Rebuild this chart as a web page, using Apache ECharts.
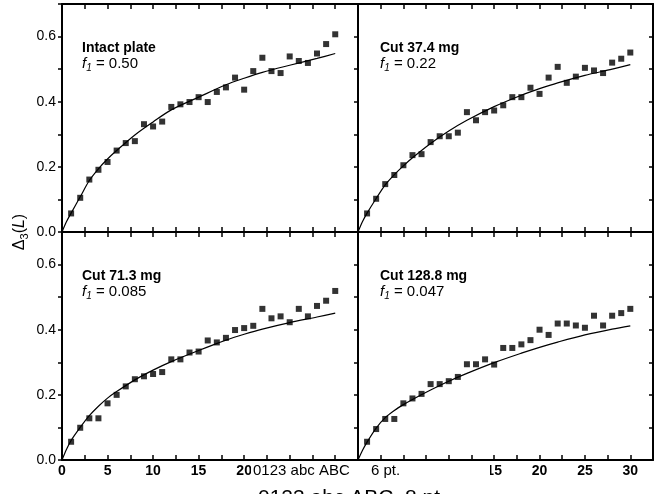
<!DOCTYPE html>
<html>
<head>
<meta charset="utf-8">
<script src="https://cdn.jsdelivr.net/npm/echarts@6/dist/echarts.min.js"></script>
<style>
  html, body { margin: 0; padding: 0; background: #fff; }
  #chart { width: 666px; height: 499px; }
</style>
</head>
<body>
<div id="chart"></div>
<script>
// measured points, x = 1..30
const xs = [1, 2, 3, 4, 5, 6, 7, 8, 9, 10, 11, 12, 13, 14, 15, 16, 17, 18, 19, 20, 21, 22, 23, 24, 25, 26, 27, 28, 29, 30]
const intactY = [0.057, 0.105, 0.161, 0.191, 0.215, 0.250, 0.273, 0.279, 0.331, 0.324, 0.339, 0.384, 0.392, 0.399, 0.414, 0.399, 0.430, 0.444, 0.474, 0.437, 0.494, 0.535, 0.494, 0.488, 0.539, 0.525, 0.519, 0.548, 0.577, 0.607]
const cut374Y = [0.057, 0.102, 0.147, 0.175, 0.205, 0.236, 0.239, 0.276, 0.294, 0.294, 0.305, 0.368, 0.343, 0.368, 0.373, 0.389, 0.414, 0.414, 0.443, 0.424, 0.474, 0.507, 0.458, 0.477, 0.504, 0.496, 0.488, 0.520, 0.532, 0.551]
const cut713Y = [0.056, 0.099, 0.128, 0.128, 0.174, 0.200, 0.226, 0.248, 0.257, 0.264, 0.270, 0.309, 0.309, 0.330, 0.333, 0.367, 0.361, 0.375, 0.399, 0.405, 0.412, 0.464, 0.435, 0.441, 0.423, 0.464, 0.441, 0.473, 0.489, 0.519]
const cut1288Y = [0.056, 0.095, 0.126, 0.126, 0.174, 0.189, 0.203, 0.233, 0.233, 0.242, 0.255, 0.294, 0.294, 0.309, 0.293, 0.344, 0.344, 0.355, 0.368, 0.400, 0.384, 0.419, 0.419, 0.413, 0.406, 0.443, 0.413, 0.443, 0.451, 0.464]

// fitted curves
const fitX = [0, 0.5, 1, 2, 3, 4, 5, 6, 8, 10, 12, 15, 18, 20, 22, 25, 28, 30]
const intactFit = [0, 0.032, 0.058, 0.108, 0.158, 0.194, 0.224, 0.250, 0.298, 0.338, 0.375, 0.414, 0.452, 0.472, 0.490, 0.512, 0.533, 0.548]
const cut374Fit = [0, 0.032, 0.058, 0.103, 0.145, 0.176, 0.203, 0.228, 0.272, 0.310, 0.343, 0.385, 0.420, 0.440, 0.458, 0.481, 0.500, 0.514]
const cut713Fit = [0, 0.033, 0.060, 0.100, 0.136, 0.165, 0.190, 0.210, 0.246, 0.276, 0.302, 0.336, 0.368, 0.386, 0.402, 0.422, 0.439, 0.451]
const cut1288Fit = [0, 0.030, 0.055, 0.098, 0.130, 0.152, 0.170, 0.186, 0.215, 0.242, 0.266, 0.299, 0.328, 0.346, 0.362, 0.384, 0.402, 0.412]

const panelNames = ['Intact plate', 'Cut 37.4 mg', 'Cut 71.3 mg', 'Cut 128.8 mg']
const panelF1 = ['0.50', '0.22', '0.085', '0.047']
const pointSets = [intactY, cut374Y, cut713Y, cut1288Y]
const fitSets = [intactFit, cut374Fit, cut713Fit, cut1288Fit]

const FONT = '"Liberation Sans", Arial, sans-serif'

const grids = [
    {left: 62, top: 4, width: 296, height: 228},
    {left: 358, top: 4, width: 295, height: 228},
    {left: 62, top: 232, width: 296, height: 228},
    {left: 358, top: 232, width: 295, height: 228}
]

let xAxes = [], yAxes = [], series = [], graphic = []

grids.forEach(function(g, i) {
    const lineStyle = {color: '#000', width: 2}
    const tickStyle = {color: '#000', width: 1.5}
    // bottom x
    xAxes.push({
        gridIndex: i, type: 'value', position: 'bottom', min: 0, max: 32.5, interval: 2.5,
        axisLine: {onZero: false, lineStyle: lineStyle},
        axisTick: {inside: true, length: 5, lineStyle: tickStyle},
        axisLabel: {
            show: i >= 2, margin: 4, color: '#000', fontFamily: FONT, fontSize: 14, fontWeight: 'bold',
            formatter: function(v) { return v % 5 === 0 ? String(v) : '' }
        },
        splitLine: {show: false}
    })
    // top x (frame only)
    xAxes.push({
        gridIndex: i, type: 'value', position: 'top', min: 0, max: 32.5, interval: 2.5,
        axisLine: {onZero: false, lineStyle: lineStyle},
        axisTick: {inside: true, length: 5, lineStyle: tickStyle},
        axisLabel: {show: false},
        splitLine: {show: false}
    })
    // left y
    yAxes.push({
        gridIndex: i, type: 'value', position: 'left', min: 0, max: 0.7, interval: 0.1,
        axisLine: {onZero: false, lineStyle: lineStyle},
        axisTick: {inside: false, length: 4, lineStyle: tickStyle},
        axisLabel: {
            show: i % 2 === 0, margin: 6, color: '#000', fontFamily: FONT, fontSize: 14,
            formatter: function(v) {
                const k = Math.round(v * 10)
                return (k % 2 === 0 && k < 7) ? v.toFixed(1) : ''
            }
        },
        splitLine: {show: false}
    })
    // right y (frame only)
    yAxes.push({
        gridIndex: i, type: 'value', position: 'right', min: 0, max: 0.7, interval: 0.1,
        axisLine: {onZero: false, lineStyle: lineStyle},
        axisTick: {inside: true, length: 4, lineStyle: tickStyle},
        axisLabel: {show: false},
        splitLine: {show: false}
    })

    series.push({
        type: 'line', xAxisIndex: 2 * i, yAxisIndex: 2 * i,
        data: fitX.map(function(x, j) { return [x, fitSets[i][j]] }),
        smooth: 0.3, symbol: 'none', silent: true,
        lineStyle: {color: '#000', width: 1.2}
    })
    series.push({
        type: 'scatter', xAxisIndex: 2 * i, yAxisIndex: 2 * i,
        data: xs.map(function(x, j) { return [x, pointSets[i][j]] }),
        symbol: 'rect', symbolSize: 6, silent: true,
        itemStyle: {color: '#000'}
    })

    // panel annotation
    const tx = g.left + (i % 2 === 0 ? 20 : 22)
    graphic.push({
        type: 'text', left: tx, top: g.top + 37,
        style: {text: panelNames[i], font: 'bold 14px ' + FONT, fill: '#000'}
    })
    graphic.push({
        type: 'text', left: tx, top: g.top + 52,
        style: {
            text: '{f|f}{s|1}{n| = ' + panelF1[i] + '}',
            rich: {
                f: {font: 'italic 15px ' + FONT, fill: '#000', lineHeight: 20, verticalAlign: 'middle'},
                s: {font: 'italic 10px ' + FONT, fill: '#000', lineHeight: 20, verticalAlign: 'bottom'},
                n: {font: '15px ' + FONT, fill: '#000', lineHeight: 20, verticalAlign: 'middle'}
            }
        }
    })
})

// overlaid text box covering part of the x tick labels
graphic.push({
    type: 'rect', shape: {x: 251, y: 462, width: 239, height: 18},
    style: {fill: '#fff'}, z: 100
})
graphic.push({
    type: 'text', x: 253, y: 471, z: 101,
    style: {text: '0123 abc ABC', font: '15px ' + FONT, fill: '#000', verticalAlign: 'middle'}
})
graphic.push({
    type: 'text', x: 371, y: 471, z: 101,
    style: {text: '6 pt.', font: '15px ' + FONT, fill: '#000', verticalAlign: 'middle'}
})
// x axis title, cut off by the bottom edge
graphic.push({
    type: 'text', x: 258, y: 488, z: 101,
    style: {text: '0123 abc ABC  8 pt.', font: '21px ' + FONT, fill: '#000', verticalAlign: 'top'}
})
graphic.push({
    type: 'rect', shape: {x: 240, y: 494, width: 240, height: 5},
    style: {fill: '#fff'}, z: 102
})
// y axis title
graphic.push({
    type: 'text', x: 20, y: 232, rotation: Math.PI / 2, z: 101,
    style: {
        text: '{d|\u0394}{s|3}{n|(}{i|L}{n|)}',
        align: 'center', verticalAlign: 'middle',
        rich: {
            d: {font: '16px ' + FONT, fill: '#000', lineHeight: 20, verticalAlign: 'middle'},
            s: {font: '11px ' + FONT, fill: '#000', lineHeight: 20, verticalAlign: 'bottom'},
            n: {font: '16px ' + FONT, fill: '#000', lineHeight: 20, verticalAlign: 'middle'},
            i: {font: 'italic 16px ' + FONT, fill: '#000', lineHeight: 20, verticalAlign: 'middle'}
        }
    }
})

const chart = echarts.init(document.getElementById('chart'), null, {renderer: 'canvas'})
chart.setOption({
    animation: false,
    backgroundColor: '#fff',
    grid: grids,
    xAxis: xAxes,
    yAxis: yAxes,
    series: series,
    graphic: graphic
})
</script>
</body>
</html>
